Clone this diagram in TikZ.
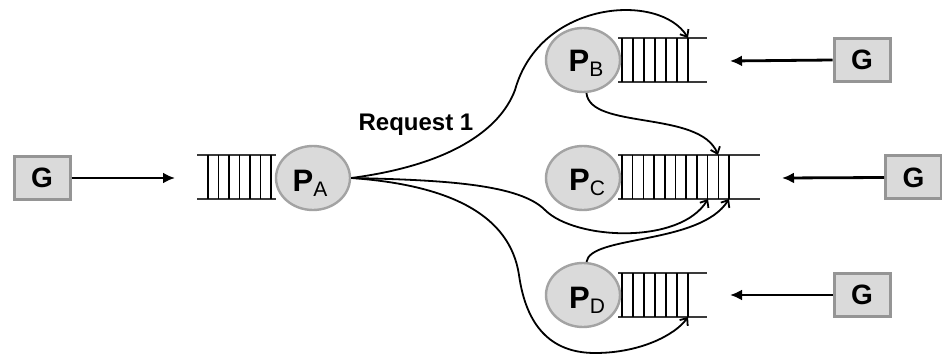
\documentclass[tikz,border=0pt]{standalone}
\usepackage{fontspec}
\setmainfont{Liberation Sans}
\usetikzlibrary{shapes.geometric,arrows.meta}
\definecolor{lightfill}{HTML}{DADADA}
\definecolor{boxgray}{HTML}{959595}
\definecolor{ellgray}{HTML}{A3A3A3}
\definecolor{qline}{HTML}{3A3A3A}
\begin{document}
\begin{tikzpicture}[x=1pt,y=-1pt,
  gbox/.style={draw=boxgray,line width=3pt,fill=lightfill,minimum width=56pt,minimum height=43pt,inner sep=0pt,font=\fontsize{28}{28}\selectfont\bfseries},
  proc/.style={ellipse,draw=ellgray,line width=2.4pt,fill=lightfill,minimum width=74pt,minimum height=64pt,inner sep=0pt},
  plabel/.style={anchor=base,inner sep=0pt},
  qhor/.style={draw=qline,line width=2.8pt},
  qver/.style={draw=black,line width=1.5pt},
  garrow/.style={line width=2.8pt,-{Latex[length=12pt,width=11pt]}},
  carrow/.style={line width=1.8pt,-{Straight Barb[length=6pt,width=10pt]}},
  reqlabel/.style={font=\fontsize{24}{24}\selectfont\bfseries,inner sep=0pt}]
\useasboundingbox (0,0) rectangle (942,358);
\newcommand{\plab}[1]{{\fontsize{31}{31}\selectfont\bfseries P}{\fontsize{21}{21}\selectfont\raisebox{-5pt}{#1}}}
% queues
\draw[qhor] (197,155) -- (276,155) (197,199) -- (276,199);
\foreach \i in {0,...,6} \draw[qver] ({208+10.5*\i},155) -- ({208+10.5*\i},199);
\draw[qhor] (618,38) -- (707,38) (618,82) -- (707,82);
\foreach \i in {0,...,6} \draw[qver] ({622+11*\i},38) -- ({622+11*\i},82);
\draw[qhor] (618,155) -- (760,155) (618,199) -- (760,199);
\foreach \i in {0,...,10} \draw[qver] ({622+10.7*\i},155) -- ({622+10.7*\i},199);
\draw[qhor] (618,273) -- (707,273) (618,317) -- (707,317);
\foreach \i in {0,...,6} \draw[qver] ({622+11*\i},273) -- ({622+11*\i},317);
% processes
\node[proc] (PA) at (313,178) {};
\node[proc] (PB) at (583,60) {};
\node[proc] (PC) at (583,178) {};
\node[proc] (PD) at (583,295) {};
\node[plabel] (tA) at (310,192) {\plab{A}};
\node[plabel] (tB) at (586,72) {\plab{B}};
\node[plabel] (tC) at (587,191) {\plab{C}};
\node[plabel] (tD) at (587,308) {\plab{D}};
% generators
\node[gbox] (G1) at (42,178) {G};
\node[gbox] (G2) at (862,60) {G};
\node[gbox] (G3) at (913.5,177.5) {G};
\node[gbox] (G4) at (862,295) {G};
\coordinate (inA) at (175,178);
\coordinate (inB) at (730,61);
\coordinate (inC) at (782,178);
\coordinate (inD) at (730,295);
\draw[garrow] (G1.east) -- (inA);
\draw[garrow] (G2.west) -- (inB);
\draw[garrow] (G3.west) -- (inC);
\draw[garrow] (G4.west) -- (inD);
% queue entry points
\coordinate (qB) at (688,38);
\coordinate (qCt) at (718,155);
\coordinate (qCb1) at (708,199);
\coordinate (qCb2) at (729,199);
\coordinate (qD) at (688,317);
% request curves
\draw[carrow] (PA.east) .. controls (450,165) and (500,130) .. (515,90)
   .. controls (540,0) and (660,-8) .. (qB);
\draw[carrow] (PA.east) .. controls (450,180) and (520,185) .. (545,210)
   .. controls (575,240) and (680,245) .. (qCb1);
\draw[carrow] (PA.east) .. controls (450,185) and (510,215) .. (519,275)
   .. controls (526,325) and (550,353) .. (595,353)
   .. controls (640,353) and (675,335) .. (qD);
\draw[carrow] (PB.-84) .. controls (590,130) and (700,110) .. (qCt);
\draw[carrow] (PD.84) .. controls (590,235) and (700,245) .. (qCb2);
\node[reqlabel] (req) at (416,125) {Request 1};
\end{tikzpicture}
\end{document}
